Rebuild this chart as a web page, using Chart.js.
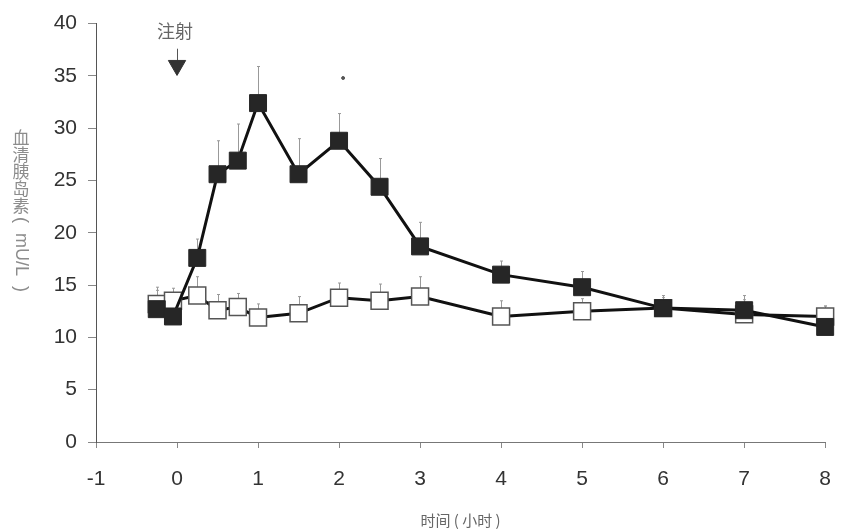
<!DOCTYPE html>
<html>
<head>
<meta charset="utf-8">
<script src="https://cdn.jsdelivr.net/npm/chart.js@4.4.1/dist/chart.umd.min.js"></script>
<style>
  html, body { margin: 0; padding: 0; background: #fff; }
  #wrap { width: 850px; height: 532px; }
</style>
</head>
<body>
<div id="wrap"><canvas id="chart"></canvas></div>
<script>
// sampling times (hours)
const times = [-0.25, -0.05, 0.25, 0.5, 0.75, 1, 1.5, 2, 2.5, 3, 4, 5, 6, 7, 8];

// filled squares
const insulinTreated = [12.7, 12.0, 17.6, 25.6, 26.9, 32.4, 25.6, 28.8, 24.4, 18.7, 16.0, 14.8, 12.8, 12.6, 11.0];
const treatedErr     = [1.8, 2.0, 1.8, 3.2, 3.5, 3.5, 3.4, 2.6, 2.7, 2.3, 1.3, 1.5, 1.2, 1.4, 2.0];

// open squares
const insulinControl = [13.2, 13.5, 14.0, 12.6, 12.9, 11.9, 12.3, 13.8, 13.5, 13.9, 12.0, 12.5, 12.8, 12.2, 12.0];
const controlErr     = [1.6, 1.2, 1.8, 1.5, 1.3, 1.3, 1.6, 1.4, 1.6, 1.9, 1.5, 1.2, 1.0, 1.4, 1.0];

// axes
const xMin = -1, xMax = 8, xStep = 1;
const yMin = 0, yMax = 40, yStep = 5;
const xTitle = '时间 ( 小时 )';
const yTitleCJK = '血清胰岛素';
const yTitleUnit = '(  mU/L  )';

// injection marker
const injectLabel = '注射';
const injectTime = 0;
const injectLabelY = 39.3;
const injectStemTop = 37.6;
const injectArrowY = 36.0;

// small significance dot
const sigMarks = [{ x: 2.05, y: 34.8 }];

const extras = {
  id: 'extras',
  beforeDatasetsDraw(chart) {
    const { ctx, scales: { x, y } } = chart;
    ctx.save();
    ctx.strokeStyle = '#999';
    ctx.lineWidth = 1;
    [[insulinControl, controlErr], [insulinTreated, treatedErr]].forEach(([vals, errs]) => {
      vals.forEach((v, i) => {
        const px = Math.round(x.getPixelForValue(times[i])) + 0.5;
        const top = y.getPixelForValue(v + errs[i]);
        ctx.beginPath();
        ctx.moveTo(px, y.getPixelForValue(v));
        ctx.lineTo(px, top);
        ctx.stroke();
        ctx.beginPath();
        ctx.moveTo(px - 1.5, top);
        ctx.lineTo(px + 1.5, top);
        ctx.stroke();
      });
    });
    // stem of the arrow
    const ax = Math.round(x.getPixelForValue(injectTime)) + 0.5;
    ctx.strokeStyle = '#555';
    ctx.beginPath();
    ctx.moveTo(ax, y.getPixelForValue(injectStemTop));
    ctx.lineTo(ax, y.getPixelForValue(injectArrowY));
    ctx.stroke();
    ctx.restore();
  },
  afterDraw(chart) {
    const { ctx, scales: { x, y } } = chart;
    ctx.save();
    ctx.fillStyle = '#666';
    ctx.font = '18px "Noto Sans CJK SC"';
    ctx.textAlign = 'center';
    ctx.textBaseline = 'middle';
    ctx.fillText(injectLabel, x.getPixelForValue(injectTime) - 2, y.getPixelForValue(injectLabelY));

    // vertical y title: upright characters, then rotated unit
    ctx.fillStyle = '#8c8c8c';
    ctx.font = '17px "Noto Sans CJK SC"';
    const tx = 21;
    let ty = 138;
    for (const ch of yTitleCJK) {
      ctx.fillText(ch, tx, ty);
      ty += 17;
    }
    ctx.translate(tx, ty - 6);
    ctx.rotate(Math.PI / 2);
    ctx.textAlign = 'left';
    ctx.font = '18px "Liberation Sans"';
    ctx.fillText(yTitleUnit, 0, 0);
    ctx.restore();
  }
};

const tickFont = { family: '"Liberation Sans", Arial, sans-serif', size: 21 };

new Chart(document.getElementById('chart'), {
  type: 'line',
  data: {
    datasets: [
      {
        label: 'treated',
        data: times.map((t, i) => ({ x: t, y: insulinTreated[i] })),
        borderColor: '#111',
        borderWidth: 3,
        pointStyle: 'rect',
        pointRadius: 12,
        pointBackgroundColor: '#262626',
        pointBorderColor: '#262626',
        pointBorderWidth: 1,
        tension: 0,
        clip: false
      },
      {
        label: 'control',
        data: times.map((t, i) => ({ x: t, y: insulinControl[i] })),
        borderColor: '#111',
        borderWidth: 3,
        pointStyle: 'rect',
        pointRadius: 12,
        pointBackgroundColor: '#fff',
        pointBorderColor: '#555',
        pointBorderWidth: 1.5,
        tension: 0,
        clip: false
      },
      {
        type: 'scatter',
        label: 'inject',
        data: [{ x: injectTime, y: injectArrowY }],
        pointStyle: 'triangle',
        rotation: 180,
        pointRadius: 10,
        backgroundColor: '#333',
        borderColor: '#333',
        clip: false
      },
      {
        type: 'scatter',
        label: 'sig',
        data: sigMarks,
        pointStyle: 'circle',
        pointRadius: 1.5,
        backgroundColor: '#555',
        borderColor: '#555'
      }
    ]
  },
  options: {
    responsive: true,
    maintainAspectRatio: false,
    animation: false,
    layout: { padding: { top: 15, right: 18, left: 0, bottom: 0 } },
    plugins: {
      legend: { display: false },
      tooltip: { enabled: false }
    },
    scales: {
      x: {
        type: 'linear',
        min: xMin,
        max: xMax,
        afterFit(scale) { scale.height = 90; },
        ticks: { stepSize: xStep, color: '#333', font: tickFont, padding: 19, maxRotation: 0 },
        grid: { drawOnChartArea: false, drawTicks: true, tickLength: 6, color: '#888' },
        border: { display: true, color: '#777', width: 1 },
        title: {
          display: true,
          text: xTitle,
          color: '#666',
          font: { family: '"Noto Sans CJK SC"', size: 15 },
          padding: { top: 0, bottom: 3 }
        }
      },
      y: {
        min: yMin,
        max: yMax,
        afterFit(scale) { scale.width = 96; },
        ticks: { stepSize: yStep, color: '#333', font: tickFont, padding: 11 },
        grid: { drawOnChartArea: false, drawTicks: true, tickLength: 8, color: '#888' },
        border: { display: true, color: '#555', width: 1 }
      }
    }
  },
  plugins: [extras]
});
</script>
</body>
</html>
